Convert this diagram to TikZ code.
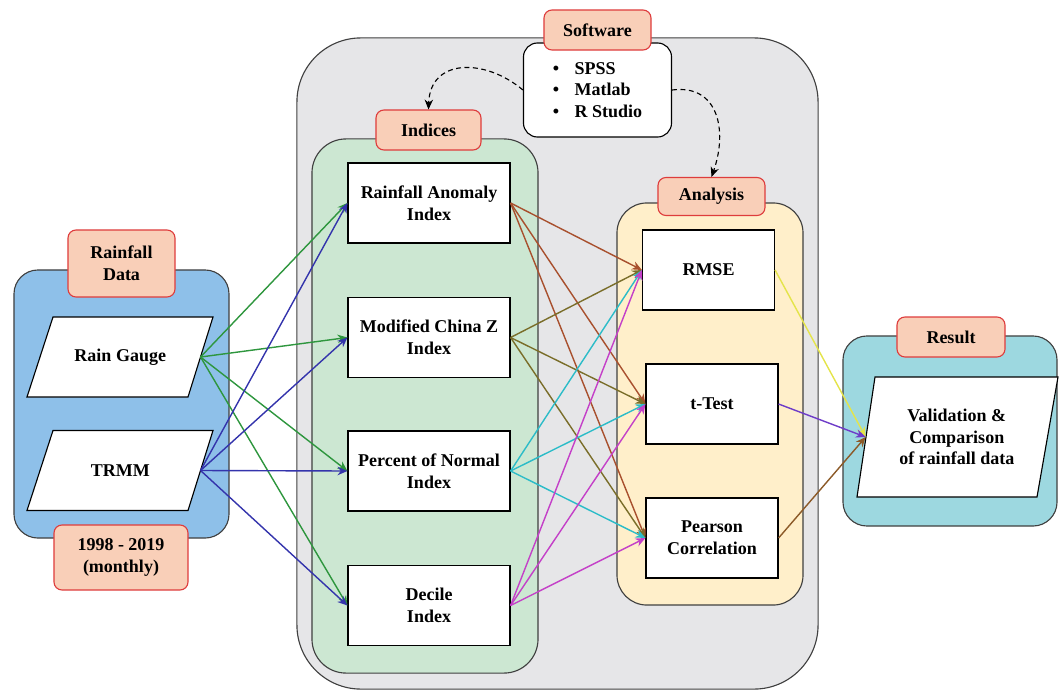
\documentclass[tikz,border=0pt]{standalone}
\usepackage{fontspec}
\setmainfont{Liberation Serif}
\usepackage{xcolor}
\usetikzlibrary{arrows.meta}

\definecolor{grpblue}{RGB}{142,192,233}
\definecolor{grpgray}{RGB}{230,230,232}
\definecolor{grpgreen}{RGB}{204,231,210}
\definecolor{grpyellow}{RGB}{255,239,202}
\definecolor{grpteal}{RGB}{157,216,224}
\definecolor{tagfill}{RGB}{249,207,184}
\definecolor{tagline}{RGB}{222,60,60}
\definecolor{lngreen}{RGB}{46,150,62}
\definecolor{lnblue}{RGB}{52,52,172}
\definecolor{lnrust}{RGB}{168,80,46}
\definecolor{lnolive}{RGB}{122,110,42}
\definecolor{lncyan}{RGB}{44,188,200}
\definecolor{lnmagenta}{RGB}{196,64,200}
\definecolor{lnyellow}{RGB}{228,228,74}
\definecolor{lnpurple}{RGB}{110,60,200}
\definecolor{lnbrown}{RGB}{140,90,40}

\begin{document}
\begin{tikzpicture}[x=0.025cm, y=-0.025cm, font=\fontsize{12.8}{15.5}\selectfont\bfseries,
  >={Stealth[length=7pt, width=6pt]},
  group/.style={draw=black!75, line width=0.8pt},
  tag/.style={draw=tagline, fill=tagfill, align=center, rounded corners=0.2cm, line width=0.8pt},
  list/.style={draw, fill=white, align=left, rounded corners=0.35cm, line width=0.8pt},
  slant/.style={draw, fill=white, line width=0.8pt},
  slantbody/.style={align=center, minimum width=4cm, minimum height=2cm},
  indexbox/.style={draw, fill=white, align=center, minimum width=4.05cm, minimum height=2cm, line width=0.8pt},
  testbox/.style={draw, fill=white, align=center, minimum width=3.3cm, minimum height=2cm, line width=0.8pt},
  transfer/.style={->, line width=1pt},
  hint/.style={->, dash pattern=on 3.5pt off 2.5pt, line width=0.8pt},
]
\useasboundingbox (0,0) rectangle (1059,691);

\node[group, fill=grpgray, rounded corners=1.6cm, minimum width=13.025cm, minimum height=16.275cm] (toolsgrp) at (557.5,363.5) {};
\node[group, fill=grpgreen, rounded corners=0.85cm, minimum width=5.65cm, minimum height=13.35cm] (indicesgrp) at (425,406) {};
\node[group, fill=grpyellow, rounded corners=0.75cm, minimum width=4.65cm, minimum height=10.05cm] (analysisgrp) at (710,404) {};
\node[group, fill=grpblue, rounded corners=0.6cm, minimum width=5.375cm, minimum height=6.7cm] (rainfallgrp) at (121.5,404) {};
\node[group, fill=grpteal, rounded corners=0.6cm, minimum width=5.35cm, minimum height=4.75cm] (resultgrp) at (950,431) {};

\node[list, minimum width=3.7cm, minimum height=2.35cm] (softlist) at (597.5,90) {\textbullet\hspace{11pt}SPSS\\\textbullet\hspace{11pt}Matlab\\\textbullet\hspace{11pt}R Studio};
\node[tag, minimum width=2.675cm, minimum height=1cm] (software) at (597.5,30) {Software};
\node[tag, minimum width=2.625cm, minimum height=1cm] (indices) at (428.5,130) {Indices};
\node[tag, minimum width=2.675cm, minimum height=0.95cm] (analysis) at (711.5,196.5) {Analysis};
\node[tag, minimum width=2.675cm, minimum height=1.675cm] (rainfall) at (121.5,263.5) {Rainfall\\Data};
\node[tag, minimum width=3.35cm, minimum height=1.625cm] (period) at (121,557.5) {1998 - 2019\\(monthly)};
\node[tag, minimum width=2.7cm, minimum height=1cm] (result) at (951,337) {Result};

\draw[slant] (27,397) -- (53,317) -- (213,317) -- (188,397) -- cycle;
\node[slantbody] (raingauge) at (120.25,357) {Rain Gauge};
\draw[slant] (27,510.5) -- (53,430.5) -- (213,430.5) -- (188,510.5) -- cycle;
\node[slantbody] (trmm) at (120.25,470.5) {TRMM};
\draw[slant] (857,497) -- (875,377) -- (1058,377) -- (1037,497) -- cycle;
\node[slantbody, minimum width=4.54cm, minimum height=3cm] (validation) at (956.75,437) {Validation \&\\Comparison\\of rainfall data};

\node[indexbox] (rai) at (429,203) {Rainfall Anomaly\\Index};
\node[indexbox] (mcz) at (429,337.5) {Modified China Z\\Index};
\node[indexbox] (pni) at (429,471) {Percent of Normal\\Index};
\node[indexbox] (decile) at (429,605.5) {Decile\\Index};

\node[testbox] (rmse) at (708.5,270) {RMSE};
\node[testbox] (ttest) at (712,404) {t-Test};
\node[testbox] (pearson) at (712,538) {Pearson\\Correlation};

\draw[hint] (softlist.west) .. controls (485,58) and (430,58) .. (indices.north);
\draw[hint] (softlist.east) .. controls (718,84) and (728,130) .. (analysis.north);

\draw[transfer, lngreen] (raingauge.east) -- (rai.west);
\draw[transfer, lngreen] (raingauge.east) -- (mcz.west);
\draw[transfer, lngreen] (raingauge.east) -- (pni.west);
\draw[transfer, lngreen] (raingauge.east) -- (decile.west);
\draw[transfer, lnblue] (trmm.east) -- (rai.west);
\draw[transfer, lnblue] (trmm.east) -- (mcz.west);
\draw[transfer, lnblue] (trmm.east) -- (pni.west);
\draw[transfer, lnblue] (trmm.east) -- (decile.west);

\draw[transfer, lnrust] (rai.east) -- (rmse.west);
\draw[transfer, lnrust] (rai.east) -- (ttest.west);
\draw[transfer, lnrust] (rai.east) -- (pearson.west);
\draw[transfer, lnolive] (mcz.east) -- (rmse.west);
\draw[transfer, lnolive] (mcz.east) -- (ttest.west);
\draw[transfer, lnolive] (mcz.east) -- (pearson.west);
\draw[transfer, lncyan] (pni.east) -- (rmse.west);
\draw[transfer, lncyan] (pni.east) -- (ttest.west);
\draw[transfer, lncyan] (pni.east) -- (pearson.west);
\draw[transfer, lnmagenta] (decile.east) -- (rmse.west);
\draw[transfer, lnmagenta] (decile.east) -- (ttest.west);
\draw[transfer, lnmagenta] (decile.east) -- (pearson.west);

\draw[transfer, lnyellow] (rmse.east) -- (validation.west);
\draw[transfer, lnpurple] (ttest.east) -- (validation.west);
\draw[transfer, lnbrown] (pearson.east) -- (validation.west);
\end{tikzpicture}
\end{document}
